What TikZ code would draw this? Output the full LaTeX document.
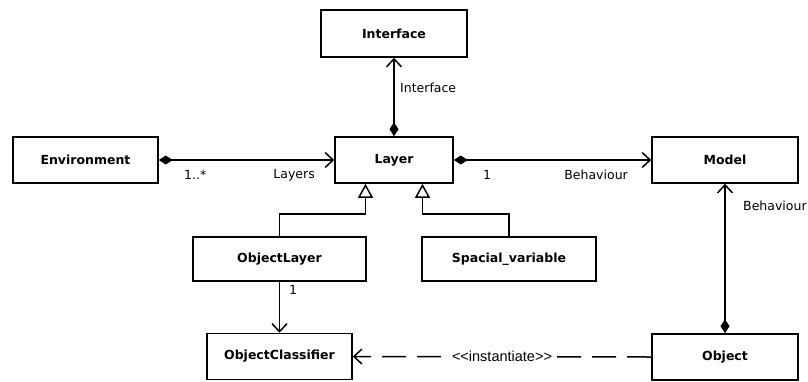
\documentclass[tikz,border=0pt]{standalone}
\usepackage{fontspec}
\setmainfont{DejaVu Sans}
\newfontfamily\stereofont{Liberation Sans}
\usetikzlibrary{arrows.meta}
\begin{document}
\begin{tikzpicture}[x=1pt,y=-1pt,
  cls/.style={draw, line width=1.6pt, rectangle, inner sep=0pt,
    font=\bfseries\fontsize{12.5}{14}\selectfont},
  lbl/.style={inner sep=0pt, font=\fontsize{12.5}{14}\selectfont},
  conn/.style={line width=1.5pt},
  barb/.tip={Straight Barb[length=8pt,width=15pt,line width=1.5pt]},
  dia/.tip={Diamond[length=14pt,width=9pt]},
  comp/.style={conn, {dia}-{barb}},
  assoc/.style={conn, -{barb}},
  gen/.style={conn, -{Triangle[open,fill=white,length=14pt,width=15pt]}},
  dep/.style={conn, dash pattern=on 24pt off 11pt, -{barb}},
]
\useasboundingbox (0,0) rectangle (808,381);

% classes
\node[cls, minimum width=146pt, minimum height=47pt] (Interface) at (394,33.5) {Interface};
\node[cls, minimum width=145pt, minimum height=46pt] (Environment) at (85.5,160) {Environment};
\node[cls, minimum width=118pt, minimum height=46pt] (Layer) at (394,160) {Layer};
\node[cls, minimum width=146pt, minimum height=46pt] (Model) at (725,160) {Model};
\node[cls, minimum width=173pt, minimum height=44pt] (ObjectLayer) at (279.5,259) {ObjectLayer};
\node[cls, minimum width=174pt, minimum height=44pt] (Spacial) at (509,259) {Spacial\_variable};
\node[cls, minimum width=145pt, minimum height=46pt] (ObjectClassifier) at (279.5,356.5) {ObjectClassifier};
\node[cls, minimum width=146pt, minimum height=46pt] (Object) at (725,357) {Object};

% compositions
\draw[comp] (Layer.north) -- (Interface.south);
\draw[comp] (Environment.east) -- (Layer.west);
\draw[comp] (Layer.east) -- (Model.west);
\draw[comp] (Object.north) -- (Model.south);

% association
\draw[assoc] (ObjectLayer.south) -- (ObjectClassifier.north);

% generalisations
\coordinate (gl) at ([xshift=-28.5pt]Layer.south);
\coordinate (gr) at ([xshift=28.5pt]Layer.south);
\draw[gen] (ObjectLayer.north) -- ++(0,-22) -| (gl);
\draw[gen] (Spacial.north) -- ++(0,-22) -| (gr);

% dependency
\draw[dep] (Object.west) -- (ObjectClassifier.east)
  node[midway, fill=white, inner xsep=5pt, inner ysep=2pt,
       font=\stereofont\fontsize{14.5}{16}\selectfont]
  {<\kern0pt<instantiate>\kern0pt>};

% role names and multiplicities
\node[lbl, anchor=west] (lInterface) at (400,88) {Interface};
\node[lbl, anchor=west] (lEnvMult) at (184,175) {1..*};
\node[lbl, anchor=east] (lLayers) at (315,175) {Layers};
\node[lbl, anchor=west] (lModelMult) at (483,175) {1};
\node[lbl, anchor=east] (lBehaviour) at (628,175) {Behaviour};
\node[lbl, anchor=west] (lBehaviour2) at (743,206) {Behaviour};
\node[lbl, anchor=west] (lClsMult) at (289,290) {1};
\end{tikzpicture}
\end{document}
